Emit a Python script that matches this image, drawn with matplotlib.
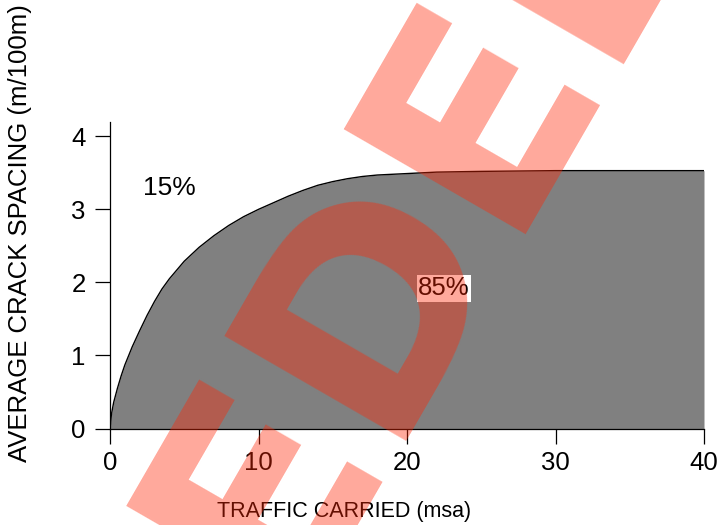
import matplotlib
matplotlib.use("Agg")
import matplotlib.pyplot as plt

plt.rcParams['font.family'] = ['Liberation Sans', 'DejaVu Sans']

# curve
traffic = [0, 0.1, 0.25, 0.5, 0.75, 1, 1.5, 2, 2.5, 3, 3.5, 4, 5, 6, 7, 8,
           9, 10, 11, 12, 13, 14, 15, 16, 17, 18, 20, 22, 25, 30, 40]
spacing = [0, 0.20, 0.36, 0.55, 0.72, 0.87, 1.12, 1.34, 1.55, 1.74, 1.91,
           2.05, 2.29, 2.48, 2.64, 2.78, 2.90, 3.00, 3.09, 3.18, 3.26, 3.33,
           3.38, 3.42, 3.45, 3.47, 3.49, 3.51, 3.52, 3.53, 3.53]
x_ticks = [0, 10, 20, 30, 40]
y_ticks = [0, 1, 2, 3, 4]
watermark = "DELETEDELETE"

W, H = 721, 525
fig = plt.figure(figsize=(W / 100, H / 100), dpi=100)
ax = fig.add_axes([110 / W, 1 - 428.5 / H, 594 / W, 306.8 / H])

ax.fill_between(traffic, spacing, 0, color='#808080', lw=0)
ax.plot(traffic, spacing, color='black', lw=1)

ax.set_xlim(0, 40)
ax.set_ylim(0, 4.2)
ax.set_xticks(x_ticks)
ax.set_yticks(y_ticks)
for s in ['top', 'right']:
    ax.spines[s].set_visible(False)
for s in ['left', 'bottom']:
    ax.spines[s].set_linewidth(0.9)
ax.tick_params(axis='both', direction='out', length=10.5, width=0.9,
               labelsize=18.5)
ax.tick_params(axis='x', pad=6)
ax.tick_params(axis='y', pad=7)

ax.set_xlabel('TRAFFIC CARRIED (msa)', fontsize=15.5, ha='left', va='center')
ax.xaxis.set_label_coords((217 - 110) / 594, (428.5 - 512) / 306.8)
ax.set_ylabel('AVERAGE CRACK SPACING (m/100m)', fontsize=18.5, va='center')
ax.yaxis.set_label_coords((20 - 110) / 594, (428.5 - 233) / 306.8)

ax.text(4.0, 3.29, '15%', fontsize=19, ha='center', va='center')
ax.text(22.5, 1.92, '85%', fontsize=18.5, ha='center', va='center',
        bbox=dict(boxstyle='square,pad=0.05', fc='white', ec='none'))

# watermark
fig.text(381 / W, 1 - 440 / H, watermark, fontsize=207, fontweight='bold',
         family='DejaVu Sans', rotation=60, rotation_mode='anchor',
         ha='center', va='baseline', color=(1.0, 0.15, 0.02), alpha=0.4)

fig.savefig('out.png', dpi=100)
